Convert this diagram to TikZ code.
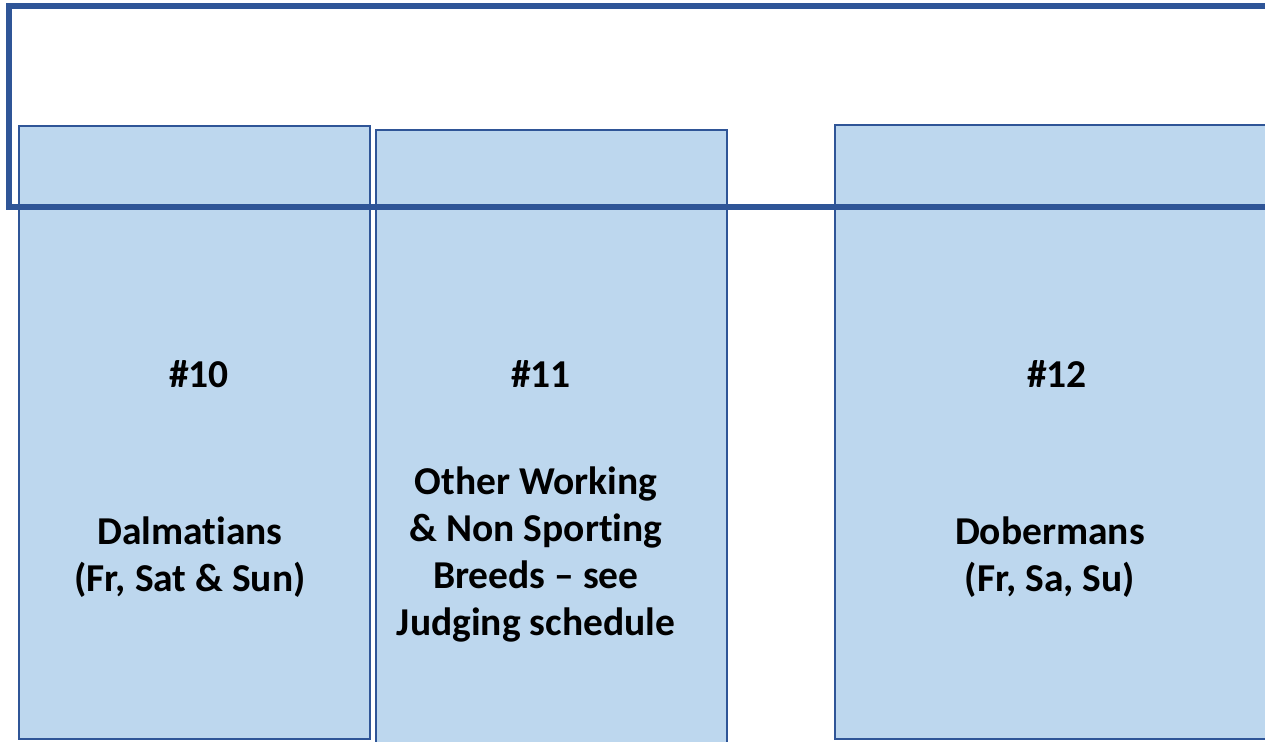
\documentclass[tikz,border=0pt]{standalone}
\usepackage{fontspec}
\setmainfont{Carlito}[Ligatures=NoCommon]
\definecolor{bayfill}{HTML}{BDD7EE}
\definecolor{bayline}{HTML}{2F5597}
\tikzset{
  bay/.style={draw=bayline, line width=2.4pt, fill=bayfill, inner sep=0pt},
  baytext/.style={align=center, font=\bfseries\fontsize{39.5}{47}\selectfont, inner sep=0pt}
}
\begin{document}
\begin{tikzpicture}[x=1pt, y=-1pt]
            \useasboundingbox (0,0) rectangle (1265,741);
            \node[bay, minimum width=351pt, minimum height=613pt] (b10) at (194.5,432.5) {};
            \node[bay, minimum width=351pt, minimum height=640pt] (b11) at (551.5,450) {};
            \node[bay, minimum width=470pt, minimum height=614pt] (b12) at (1070,432) {};
            \node[baytext] (t10) at (199,374) {\#10};
            \node[baytext] (t11) at (541,374) {\#11};
            \node[baytext] (t12) at (1057,374) {\#12};
            \node[baytext] (n10) at (190,557) {Dalmatians\\(Fr, Sat \& Sun)};
            \node[baytext] (n11) at (536,554) {Other Working\\\& Non Sporting\\Breeds -- see\\Judging schedule};
            \node[baytext] (n12) at (1050,557) {Dobermans\\(Fr, Sa, Su)};
            \draw[bayline, line width=6.5pt] (9,6) rectangle (1290,207);
        \end{tikzpicture}
\end{document}
